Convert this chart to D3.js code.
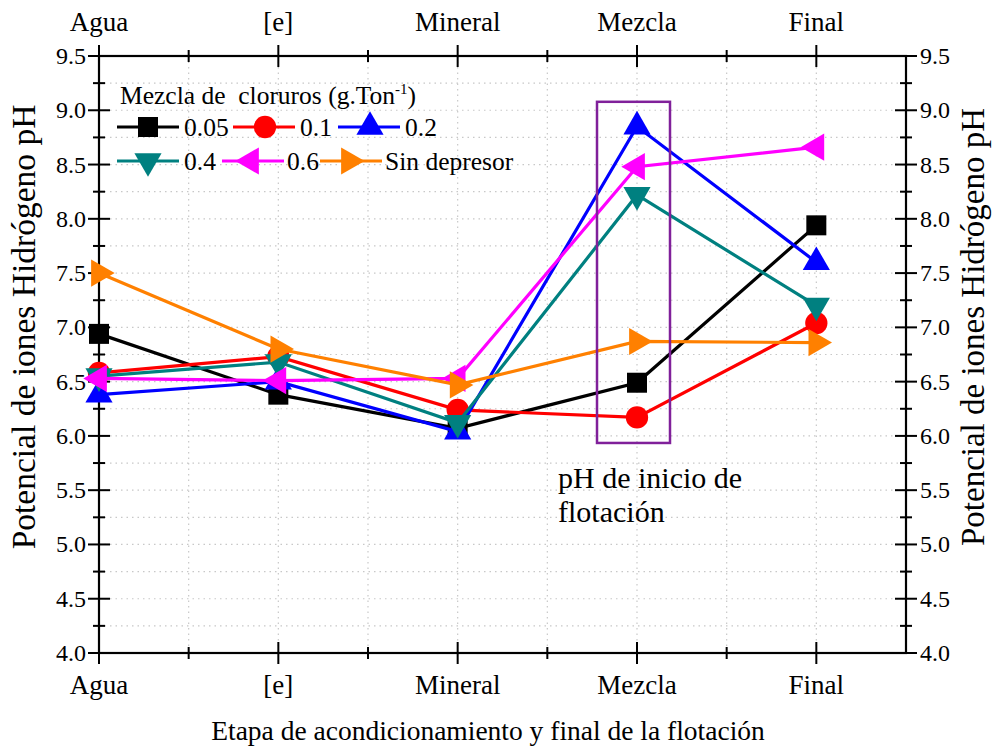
<!DOCTYPE html>
<html>
<head>
<meta charset="utf-8">
<script src="https://cdn.jsdelivr.net/npm/d3@7"></script>
<style>
  html, body { margin: 0; padding: 0; background: #fff; }
  svg { display: block; font-family: "Liberation Serif", "Times New Roman", serif; }
</style>
</head>
<body>
<svg id="chart" width="993" height="749"></svg>
<script>
// Conditioning stages along the x axis
const stages = ["Agua", "[e]", "Mineral", "Mezcla", "Final"];

// pH measured at each stage, one array per chloride dose (g.Ton^-1)
const ph005 = [6.94, 6.38, 6.07, 6.49, 7.94];
const ph01  = [6.58, 6.73, 6.24, 6.17, 7.04];
const ph02  = [6.38, 6.50, 6.04, 8.85, 7.60];
const ph04  = [6.55, 6.68, 6.12, 8.22, 7.20];
const ph06  = [6.53, 6.51, 6.53, 8.48, 8.66];
const phSin = [7.50, 6.80, 6.47, 6.87, 6.86];

const seriesNames = ["0.05", "0.1", "0.2", "0.4", "0.6", "Sin depresor"];
const yTicks = [4.0, 4.5, 5.0, 5.5, 6.0, 6.5, 7.0, 7.5, 8.0, 8.5, 9.0, 9.5];

const series = [
  { name: seriesNames[0], values: ph005, color: "#000000", shape: "square" },
  { name: seriesNames[1], values: ph01,  color: "#ff0000", shape: "circle" },
  { name: seriesNames[2], values: ph02,  color: "#0000ff", shape: "up" },
  { name: seriesNames[3], values: ph04,  color: "#008080", shape: "down" },
  { name: seriesNames[4], values: ph06,  color: "#ff00ff", shape: "left" },
  { name: seriesNames[5], values: phSin, color: "#ff8000", shape: "right" }
];

const svg = d3.select("#chart");
const plotL = 99, plotR = 906, plotT = 56, plotB = 653;

const x = d3.scaleLinear().domain([0, 4.5]).range([plotL, plotR]);
const y = d3.scaleLinear().domain([4, 9.5]).range([plotB, plotT]);

// Dotted grid
const grid = svg.append("g");
const hGrid = d3.range(4.25, 9.5, 0.25);
grid.selectAll("line.h").data(hGrid).enter().append("line")
  .attr("x1", plotL).attr("x2", plotR)
  .attr("y1", d => y(d)).attr("y2", d => y(d))
  .attr("stroke", "#c8c8c8").attr("stroke-width", 1.2).attr("stroke-dasharray", "1.5,4");
const vGrid = d3.range(0.5, 4.5, 0.5);
grid.selectAll("line.v").data(vGrid).enter().append("line")
  .attr("y1", plotT).attr("y2", plotB)
  .attr("x1", d => x(d)).attr("x2", d => x(d))
  .attr("stroke", "#c8c8c8").attr("stroke-width", 1.2).attr("stroke-dasharray", "1.5,4");

// Axis frame with ticks crossing each axis line
const axisG = svg.append("g").attr("stroke", "#000");
function ticksAlong(axis) {
  const majorX = d3.range(0, 4.5, 1), minorX = d3.range(0.5, 4.5, 1);
  const majorY = yTicks, minorY = d3.range(4.25, 9.5, 0.5);
  if (axis === "bottom" || axis === "top") {
    const yy = axis === "bottom" ? plotB : plotT;
    majorX.forEach(v => axisG.append("line").attr("x1", x(v)).attr("x2", x(v)).attr("y1", yy - 11).attr("y2", yy + 11).attr("stroke-width", 2));
    minorX.forEach(v => axisG.append("line").attr("x1", x(v)).attr("x2", x(v)).attr("y1", yy - 6).attr("y2", yy + 6).attr("stroke-width", 2));
  } else {
    const xx = axis === "left" ? plotL : plotR;
    majorY.forEach(v => axisG.append("line").attr("y1", y(v)).attr("y2", y(v)).attr("x1", xx - 11).attr("x2", xx + 11).attr("stroke-width", 2));
    minorY.forEach(v => axisG.append("line").attr("y1", y(v)).attr("y2", y(v)).attr("x1", xx - 6).attr("x2", xx + 6).attr("stroke-width", 2));
  }
}
["bottom", "top", "left", "right"].forEach(ticksAlong);
axisG.append("rect").attr("x", plotL).attr("y", plotT).attr("width", plotR - plotL).attr("height", plotB - plotT)
  .attr("fill", "none").attr("stroke-width", 2.2);

// Tick labels
const labels = svg.append("g").attr("fill", "#000");
stages.forEach((s, i) => {
  labels.append("text").attr("x", x(i)).attr("y", 694).attr("text-anchor", "middle").attr("font-size", 27).text(s);
  labels.append("text").attr("x", x(i)).attr("y", 31).attr("text-anchor", "middle").attr("font-size", 27).text(s);
});
yTicks.forEach(v => {
  labels.append("text").attr("x", 86).attr("y", y(v) + 8).attr("text-anchor", "end").attr("font-size", 24).text(v.toFixed(1));
  labels.append("text").attr("x", 920).attr("y", y(v) + 8).attr("text-anchor", "start").attr("font-size", 24).text(v.toFixed(1));
});

// Axis titles
labels.append("text").attr("x", 488).attr("y", 740).attr("text-anchor", "middle").attr("font-size", 27.5)
  .text("Etapa de acondicionamiento y final de la flotación");
labels.append("text").attr("transform", "translate(35,327) rotate(-90)").attr("text-anchor", "middle").attr("font-size", 33.5)
  .text("Potencial de iones Hidrógeno pH");
labels.append("text").attr("transform", "translate(984,327) rotate(-90)").attr("text-anchor", "middle").attr("font-size", 33)
  .text("Potencial de iones Hidrógeno pH");

// Marker shapes
const rot = { up: 0, down: 180, left: -90, right: 90 };
function marker(g, shape, color, cx, cy) {
  if (shape === "square") {
    g.append("path").attr("d", d3.symbol(d3.symbolSquare, 400)()).attr("transform", `translate(${cx},${cy})`).attr("fill", color);
  } else if (shape === "circle") {
    g.append("path").attr("d", d3.symbol(d3.symbolCircle, 390)()).attr("transform", `translate(${cx},${cy})`).attr("fill", color);
  } else {
    g.append("path").attr("d", d3.symbol(d3.symbolTriangle, 320)())
      .attr("transform", `translate(${cx},${cy}) rotate(${rot[shape]})`).attr("fill", color);
  }
}

// Series: line then markers, one series at a time
const line = d3.line().x((d, i) => x(i)).y(d => y(d));
series.forEach(s => {
  const g = svg.append("g");
  g.append("path").attr("d", line(s.values)).attr("fill", "none").attr("stroke", s.color)
    .attr("stroke-width", 3.2).attr("stroke-linejoin", "miter");
  s.values.forEach((v, i) => marker(g, s.shape, s.color, x(i), y(v)));
});

// Highlight box at the start-of-flotation stage
svg.append("rect")
  .attr("x", x(2.777)).attr("y", y(9.078))
  .attr("width", x(3.184) - x(2.777)).attr("height", y(5.935) - y(9.078))
  .attr("fill", "none").attr("stroke", "#80209a").attr("stroke-width", 2.5);
labels.append("text").attr("x", 558).attr("y", 488).attr("font-size", 30).text("pH de inicio de");
labels.append("text").attr("x", 558).attr("y", 522).attr("font-size", 30).text("flotación");

// Legend
const leg = svg.append("g");
const legTitle = leg.append("text").attr("x", 120).attr("y", 104).attr("font-size", 25.5)
  .style("white-space", "pre").attr("xml:space", "preserve");
legTitle.append("tspan").text("Mezcla de  cloruros (g.Ton");
legTitle.append("tspan").attr("font-size", 15).attr("dy", -10).text("-1");
legTitle.append("tspan").attr("dy", 10).text(")");
const legPos = [
  { x0: 117, mx: 148, tx: 184, y: 127 },
  { x0: 233, mx: 265, tx: 300, y: 127 },
  { x0: 338, mx: 370, tx: 405, y: 127 },
  { x0: 117, mx: 148, tx: 184, y: 161 },
  { x0: 222, mx: 251, tx: 287, y: 161 },
  { x0: 320, mx: 349, tx: 385, y: 161 }
];
series.forEach((s, i) => {
  const p = legPos[i];
  leg.append("line").attr("x1", p.x0).attr("x2", p.x0 + 62).attr("y1", p.y).attr("y2", p.y)
    .attr("stroke", s.color).attr("stroke-width", 3.2);
  marker(leg, s.shape, s.color, p.mx, p.y);
  leg.append("text").attr("x", p.tx).attr("y", p.y + 9).attr("font-size", 25.5).text(s.name);
});
</script>
</body>
</html>
